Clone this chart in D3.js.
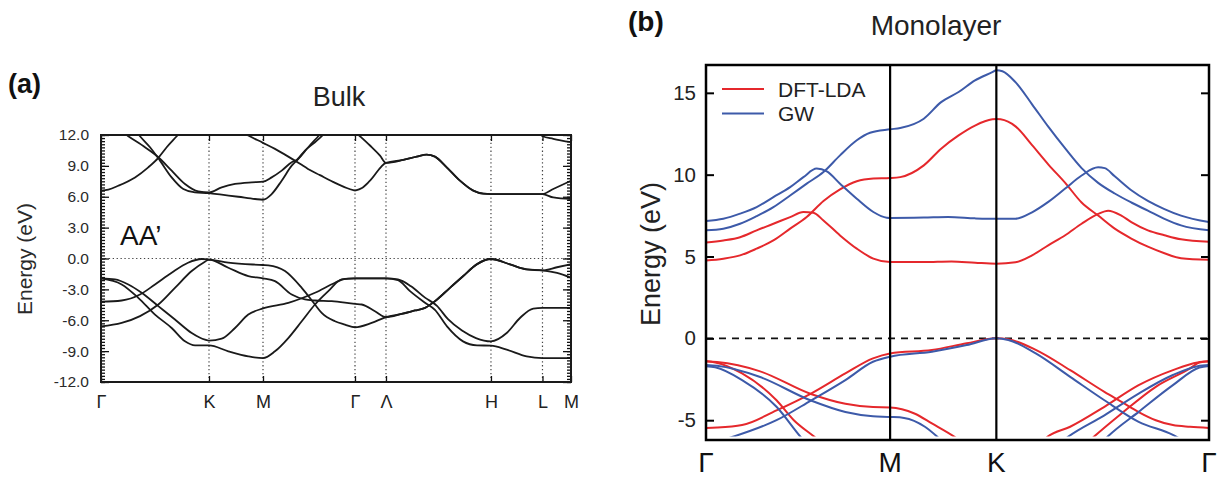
<!DOCTYPE html>
<html>
<head>
<meta charset="utf-8">
<script src="https://cdn.jsdelivr.net/npm/d3@7"></script>
<style>
body { margin: 0; background: #fff; }
svg { display: block; }
</style>
</head>
<body>
<div id="chart"></div>
<script>
// ---- (a) bulk, AA' stacking: high-symmetry path and bands as [k, E(eV)] ----
var bulkLabels = ["Γ", "K", "M", "Γ", "Λ", "H", "L", "M"];
var bulkTicks = [0, 1.174, 1.761, 2.761, 3.098, 4.239, 4.799, 5.109];
var bulkEnergyTicks = [12, 9, 6, 3, 0, -3, -6, -9, -12];

var bulkC1 = [[0,6.59],[0.08,6.7],[0.188,7.07],[0.37,7.88],[0.514,8.86],[0.623,9.78],[0.714,10.81],[0.823,11.88],[0.913,12.8]];
var bulkC2 = [[0.207,12.45],[0.297,11.88],[0.478,10.81],[0.623,9.84],[0.768,8.54],[0.913,7.24],[1.058,6.52],[1.174,6.42],[1.312,6.91],[1.457,7.24],[1.638,7.4],[1.761,7.46],[1.855,7.88],[1.964,8.54],[2.073,9.35],[2.127,9.58],[2.217,10.49],[2.326,11.3],[2.399,11.88],[2.467,12.6]];
var bulkC3 = [[0.36,12.6],[0.424,11.88],[0.533,10.81],[0.641,9.51],[0.768,7.88],[0.895,6.75],[1.022,6.42],[1.174,6.36],[1.312,6.2],[1.492,6.0],[1.674,5.78],[1.761,5.71],[1.855,6.26],[1.964,7.56],[2.073,9.02],[2.145,9.68],[2.253,10.81],[2.362,11.88],[2.435,12.6]];
var bulkC4 = [[1.50,12.45],[1.601,11.95],[1.761,11.24],[1.891,10.65],[2.036,9.9],[2.163,9.2],[2.25,8.7],[2.38,8.1],[2.522,7.45],[2.671,6.85],[2.761,6.59]];
var bulkC5 = [[2.761,6.59],[2.837,6.85],[2.924,7.56],[3.098,9.29],[3.286,9.58],[3.432,9.9],[3.540,10.1],[3.630,9.9],[3.758,8.86],[3.902,7.56],[4.047,6.59],[4.155,6.3],[4.239,6.26],[4.799,6.26],[4.916,6.75],[5.109,7.56]];
var bulkC6 = [[2.75,12.4],[2.815,11.88],[2.924,10.98],[3.033,10.0],[3.098,9.29],[3.286,9.58],[3.432,9.9],[3.540,10.1],[3.630,9.9],[3.758,8.86],[3.902,7.56],[4.047,6.59],[4.155,6.3],[4.239,6.26],[4.799,6.26],[4.916,5.93],[5.109,5.78]];
var bulkC7 = [[4.74,12.3],[4.797,11.9],[4.916,11.63],[5.109,11.3]];

var bulkV1 = [[0,-4.2],[0.225,-4.08],[0.424,-3.5],[0.587,-2.52],[0.768,-1.38],[0.946,-0.41],[1.095,-0.05],[1.174,-0.1],[1.384,-0.41],[1.761,-0.63],[1.82,-0.66],[2.0,-1.22],[2.182,-2.85],[2.326,-4.47],[2.399,-5.29],[2.543,-6.1],[2.652,-6.42],[2.761,-6.68],[2.942,-6.26],[3.098,-5.7],[3.268,-5.38],[3.413,-5.05],[3.522,-4.8],[3.630,-4.15],[3.793,-2.85],[3.938,-1.7],[4.084,-0.57],[4.239,-0.05],[4.446,-0.57],[4.627,-1.05],[4.799,-1.15],[4.957,-0.85],[5.109,-0.57]];
var bulkV2 = [[0,-6.6],[0.225,-6.26],[0.424,-5.6],[0.623,-4.47],[0.804,-2.85],[0.986,-1.22],[1.13,-0.31],[1.174,-0.1],[1.384,-0.9],[1.601,-1.71],[1.761,-1.93],[1.891,-2.2],[2.073,-3.5],[2.217,-3.98],[2.326,-4.08],[2.508,-4.15],[2.761,-4.41],[2.834,-4.47],[2.978,-5.12],[3.098,-5.7],[3.268,-5.38],[3.413,-5.05],[3.522,-4.8],[3.630,-4.15],[3.793,-2.85],[3.938,-1.7],[4.084,-0.57],[4.239,-0.05],[4.446,-0.57],[4.627,-1.05],[4.799,-1.15],[4.957,-1.4],[5.109,-1.87]];
var bulkV3 = [[0,-1.93],[0.152,-2.03],[0.297,-2.52],[0.442,-3.33],[0.623,-4.63],[0.804,-5.93],[0.986,-7.24],[1.13,-7.89],[1.174,-7.98],[1.312,-7.79],[1.457,-6.75],[1.601,-5.45],[1.761,-4.85],[2.036,-4.31],[2.326,-3.33],[2.543,-2.36],[2.652,-1.97],[2.761,-1.93],[3.098,-1.93],[3.228,-2.03],[3.370,-2.7],[3.522,-3.8],[3.652,-4.6],[3.772,-5.9],[3.924,-7.0],[4.076,-7.73],[4.239,-8.05],[4.410,-7.24],[4.554,-5.78],[4.699,-4.86],[4.799,-4.8],[5.109,-4.8]];
var bulkV4 = [[0,-1.93],[0.225,-2.52],[0.405,-3.82],[0.587,-5.45],[0.768,-6.75],[0.913,-8.05],[1.022,-8.44],[1.174,-8.44],[1.384,-9.02],[1.601,-9.51],[1.761,-9.68],[1.891,-9.02],[2.036,-7.73],[2.182,-6.1],[2.326,-4.47],[2.471,-3.17],[2.616,-2.03],[2.761,-1.93],[3.098,-1.93],[3.228,-2.1],[3.359,-3.17],[3.522,-4.3],[3.630,-5.0],[3.761,-6.6],[3.935,-8.05],[4.087,-8.44],[4.239,-8.47],[4.410,-8.86],[4.627,-9.51],[4.799,-9.68],[5.109,-9.68]];

// ---- (b) monolayer: Γ-M-K-Γ, DFT-LDA and GW bands ----
var monoLabels = ["Γ", "M", "K", "Γ"];
var monoTicks = [0, 1, 1.577, 2.732];
var monoEnergyTicks = [15, 10, 5, 0, -5];
var seriesNames = ["DFT-LDA", "GW"];

var ldaC1 = [[0,4.76],[0.094,4.87],[0.185,5.07],[0.275,5.48],[0.366,5.98],[0.457,6.7],[0.547,7.41],[0.638,8.39],[0.728,9.1],[0.819,9.6],[0.909,9.76],[1.0,9.79],[1.055,9.85],[1.183,10.57],[1.277,11.59],[1.372,12.4],[1.461,13.0],[1.555,13.38],[1.577,13.4],[1.60,13.38],[1.681,12.95],[1.771,11.8],[1.861,10.6],[1.951,9.5],[2.040,8.3],[2.130,7.5],[2.220,6.7],[2.310,6.1],[2.40,5.6],[2.49,5.2],[2.58,4.9],[2.732,4.8]];
var ldaC2 = [[0,5.85],[0.094,5.98],[0.185,6.18],[0.275,6.6],[0.366,7.0],[0.457,7.41],[0.529,7.72],[0.583,7.68],[0.638,7.2],[0.728,6.29],[0.819,5.48],[0.909,4.87],[1.0,4.66],[1.183,4.66],[1.333,4.7],[1.462,4.62],[1.577,4.56],[1.681,4.65],[1.771,5.07],[1.861,5.7],[1.951,6.3],[2.040,7.0],[2.130,7.6],[2.184,7.8],[2.256,7.5],[2.310,7.1],[2.40,6.6],[2.49,6.3],[2.58,6.05],[2.732,5.9]];
var ldaV1 = [[0,-5.47],[0.06,-5.45],[0.196,-5.3],[0.383,-4.4],[0.570,-3.37],[0.757,-2.14],[0.907,-1.22],[1.0,-0.92],[1.227,-0.71],[1.416,-0.3],[1.577,0],[1.642,-0.06],[1.791,-0.7],[1.978,-1.94],[2.164,-3.27],[2.257,-3.88],[2.350,-4.5],[2.443,-5.0],[2.536,-5.3],[2.629,-5.4],[2.732,-5.47]];
var ldaV2 = [[0,-1.4],[0.06,-1.45],[0.290,-2.0],[0.570,-3.4],[0.757,-4.0],[0.907,-4.2],[1.0,-4.22],[1.132,-4.59],[1.227,-5.2],[1.350,-6.02],[1.42,-6.6],[1.80,-6.6],[1.856,-6.0],[1.978,-5.4],[2.164,-4.18],[2.350,-2.86],[2.536,-1.94],[2.67,-1.47],[2.732,-1.4]];
var ldaV3 = [[0,-1.4],[0.05,-1.47],[0.196,-2.14],[0.383,-3.78],[0.477,-5.0],[0.589,-6.02],[0.65,-6.6],[2.05,-6.6],[2.108,-6.0],[2.257,-4.59],[2.443,-2.96],[2.629,-1.84],[2.68,-1.48],[2.732,-1.4]];

var gwC1 = [[0,6.6],[0.094,6.7],[0.185,7.0],[0.275,7.47],[0.366,8.02],[0.457,8.73],[0.547,9.45],[0.638,10.16],[0.728,11.18],[0.819,12.1],[0.891,12.56],[1.0,12.77],[1.055,12.85],[1.183,13.42],[1.277,14.43],[1.372,15.05],[1.461,15.76],[1.555,16.26],[1.577,16.38],[1.61,16.32],[1.681,15.65],[1.771,14.3],[1.861,12.9],[1.951,11.6],[2.040,10.4],[2.130,9.5],[2.220,8.85],[2.310,8.3],[2.40,7.8],[2.49,7.3],[2.58,6.9],[2.732,6.6]];
var gwC2 = [[0,7.17],[0.094,7.31],[0.185,7.62],[0.275,8.02],[0.366,8.63],[0.457,9.24],[0.529,9.85],[0.601,10.37],[0.656,10.2],[0.728,9.45],[0.819,8.53],[0.909,7.72],[0.982,7.37],[1.0,7.36],[1.183,7.38],[1.315,7.41],[1.462,7.33],[1.577,7.3],[1.681,7.31],[1.771,7.7],[1.861,8.35],[1.951,9.15],[2.040,9.95],[2.130,10.45],[2.166,10.4],[2.220,9.9],[2.310,9.05],[2.40,8.4],[2.49,7.9],[2.58,7.5],[2.732,7.1]];
var gwV1 = [[0,-6.5],[0.150,-6.0],[0.383,-5.0],[0.570,-3.8],[0.757,-2.55],[0.907,-1.43],[1.0,-1.12],[1.227,-0.82],[1.416,-0.41],[1.577,0],[1.642,-0.1],[1.791,-0.92],[1.978,-2.35],[2.164,-3.78],[2.350,-5.1],[2.536,-5.9],[2.6,-6.3]];
var gwV2 = [[0,-1.63],[0.06,-1.68],[0.290,-2.35],[0.570,-3.8],[0.757,-4.5],[0.907,-4.76],[1.0,-4.8],[1.076,-4.86],[1.189,-5.4],[1.255,-6.0],[1.31,-6.6],[1.90,-6.6],[1.968,-6.0],[2.164,-4.7],[2.350,-3.37],[2.536,-2.24],[2.67,-1.7],[2.732,-1.63]];
var gwV3 = [[0,-1.7],[0.05,-1.77],[0.196,-2.55],[0.383,-4.18],[0.514,-6.02],[0.56,-6.6],[2.13,-6.6],[2.182,-6.0],[2.350,-4.49],[2.536,-2.86],[2.68,-1.78],[2.732,-1.69]];

var bulkBands = [bulkC1, bulkC2, bulkC3, bulkC4, bulkC5, bulkC6, bulkC7, bulkV1, bulkV2, bulkV3, bulkV4];
var ldaBands = [ldaC1, ldaC2, ldaV1, ldaV2, ldaV3];
var gwBands = [gwC1, gwC2, gwV1, gwV2, gwV3];

var FONT = '"Liberation Sans", Arial, Helvetica, sans-serif';
var RED = "#e5282c", BLUE = "#3d5aa9";

var svg = d3.select("#chart").append("svg")
	.attr("width", 1230)
	.attr("height", 480)
	.style("font-family", FONT);
var defs = svg.append("defs");

function styleAxis(g, size, fill) {
	g.select(".domain").remove();
	g.attr("font-family", null).attr("font-size", null);
	g.selectAll("text").style("font-size", size + "px").style("fill", fill || "#222");
	g.selectAll("line").style("stroke", "#111");
}

// ============ (a) Bulk ============
var ax = d3.scaleLinear().domain([0, 5.109]).range([101, 571]);
var ay = d3.scaleLinear().domain([-12, 12]).range([382, 135]);
var bulkMinor = d3.range(0, 81).map(function(i) { return -12 + i * 0.3; });

defs.append("clipPath").attr("id", "clipA").append("rect")
	.attr("x", ax(0)).attr("y", ay(12))
	.attr("width", ax(5.109) - ax(0)).attr("height", ay(-12) - ay(12));

var ga = svg.append("g");

// dotted guides
ga.append("g").selectAll("line")
		.data(bulkTicks.slice(1, -1))
	.enter().append("line")
		.attr("x1", ax).attr("x2", ax)
		.attr("y1", ay(12)).attr("y2", ay(-12))
		.style("stroke", "#444").style("stroke-width", 1.2)
		.style("stroke-dasharray", "1.3,2.6");
ga.append("line")
	.attr("x1", ax(0)).attr("x2", ax(5.109))
	.attr("y1", ay(0)).attr("y2", ay(0))
	.style("stroke", "#444").style("stroke-width", 1.2)
	.style("stroke-dasharray", "1.3,2.6");

var lineA = d3.line()
	.x(function(d) { return ax(d[0]); })
	.y(function(d) { return ay(d[1]); })
	.curve(d3.curveMonotoneX);

ga.append("g").attr("clip-path", "url(#clipA)").selectAll("path")
		.data(bulkBands)
	.enter().append("path")
		.attr("d", lineA)
		.style("fill", "none")
		.style("stroke", "#1a1a1a")
		.style("stroke-width", 1.8);

// axes: minor + major ticks inward on both sides
ga.append("g").attr("transform", "translate(" + ax(0) + ",0)")
	.call(d3.axisLeft(ay).tickValues(bulkMinor).tickSize(-4).tickSizeOuter(0).tickFormat(""))
	.call(styleAxis, 14);
ga.append("g").attr("transform", "translate(" + ax(0) + ",0)")
	.call(d3.axisLeft(ay).tickValues(bulkEnergyTicks).tickSize(-8).tickSizeOuter(0).tickPadding(12)
		.tickFormat(function(d) { return d.toFixed(1); }))
	.call(styleAxis, 15.5, "#2a2a2a");
ga.append("g").attr("transform", "translate(" + ax(5.109) + ",0)")
	.call(d3.axisRight(ay).tickValues(bulkMinor).tickSize(-4).tickSizeOuter(0).tickFormat(""))
	.call(styleAxis, 14);
ga.append("g").attr("transform", "translate(" + ax(5.109) + ",0)")
	.call(d3.axisRight(ay).tickValues(bulkEnergyTicks).tickSize(-8).tickSizeOuter(0).tickFormat(""))
	.call(styleAxis, 14);
ga.append("g").attr("transform", "translate(0," + ay(-12) + ")")
	.call(d3.axisBottom(ax).tickValues(bulkTicks).tickSize(-6).tickSizeOuter(0).tickPadding(13)
		.tickFormat(function(d, i) { return bulkLabels[i]; }))
	.call(styleAxis, 18);
ga.append("g").attr("transform", "translate(0," + ay(12) + ")")
	.call(d3.axisTop(ax).tickValues(bulkTicks).tickSize(-6).tickSizeOuter(0).tickFormat(""))
	.call(styleAxis, 14);
ga.selectAll(".tick line").style("stroke-width", 1.3);

ga.append("rect")
	.attr("x", ax(0)).attr("y", ay(12))
	.attr("width", ax(5.109) - ax(0)).attr("height", ay(-12) - ay(12))
	.style("fill", "none").style("stroke", "#1a1a1a").style("stroke-width", 2);

ga.append("text")
	.attr("transform", "translate(32,259) rotate(-90)")
	.attr("text-anchor", "middle")
	.style("font-size", "21px").style("fill", "#2a2a2a")
	.text("Energy (eV)");
ga.append("text")
	.attr("x", 120).attr("y", 245)
	.style("font-size", "28px").style("fill", "#111")
	.text("AA’");
ga.append("text")
	.attr("x", 339).attr("y", 106)
	.attr("text-anchor", "middle")
	.style("font-size", "27px").style("fill", "#222")
	.text("Bulk");
ga.append("text")
	.attr("x", 8).attr("y", 93)
	.style("font-size", "27px").style("font-weight", "bold").style("fill", "#111")
	.text("(a)");

// ============ (b) Monolayer ============
var bx = d3.scaleLinear().domain([0, 2.732]).range([706, 1209]);
var by = d3.scaleLinear().domain([-6.21, 16.7]).range([440, 65]);

defs.append("clipPath").attr("id", "clipB").append("rect")
	.attr("x", bx(0)).attr("y", by(16.7))
	.attr("width", bx(2.732) - bx(0)).attr("height", by(-6.0) - by(16.7));

var gb = svg.append("g");

gb.append("line")
	.attr("x1", bx(0)).attr("x2", bx(2.732))
	.attr("y1", by(0)).attr("y2", by(0))
	.style("stroke", "#111").style("stroke-width", 1.6)
	.style("stroke-dasharray", "7,6");

var lineB = d3.line()
	.x(function(d) { return bx(d[0]); })
	.y(function(d) { return by(d[1]); })
	.curve(d3.curveMonotoneX);

var bands = gb.append("g").attr("clip-path", "url(#clipB)");
bands.selectAll(".lda")
		.data(ldaBands)
	.enter().append("path")
		.attr("class", "lda")
		.attr("d", lineB)
		.style("fill", "none").style("stroke", RED).style("stroke-width", 2);
bands.selectAll(".gw")
		.data(gwBands)
	.enter().append("path")
		.attr("class", "gw")
		.attr("d", lineB)
		.style("fill", "none").style("stroke", BLUE).style("stroke-width", 2);

// high-symmetry verticals
gb.append("g").selectAll("line")
		.data(monoTicks.slice(1, -1))
	.enter().append("line")
		.attr("x1", bx).attr("x2", bx)
		.attr("y1", by(16.7)).attr("y2", by(-6.21))
		.style("stroke", "#000").style("stroke-width", 2.2);

gb.append("g").attr("transform", "translate(" + bx(0) + ",0)")
	.call(d3.axisLeft(by).tickValues(monoEnergyTicks).tickSize(-8).tickSizeOuter(0).tickPadding(10)
		.tickFormat(function(d) { return String(d); }))
	.call(styleAxis, 20.5);
gb.append("g").attr("transform", "translate(" + bx(2.732) + ",0)")
	.call(d3.axisRight(by).tickValues(monoEnergyTicks).tickSize(-8).tickSizeOuter(0).tickFormat(""))
	.call(styleAxis, 20);
gb.selectAll(".tick line").style("stroke-width", 2).style("stroke", "#000");

gb.append("rect")
	.attr("x", bx(0)).attr("y", by(16.7))
	.attr("width", bx(2.732) - bx(0)).attr("height", by(-6.21) - by(16.7))
	.style("fill", "none").style("stroke", "#000").style("stroke-width", 2.5);

gb.append("g").selectAll("text")
		.data(monoTicks)
	.enter().append("text")
		.attr("x", bx).attr("y", 472)
		.attr("text-anchor", "middle")
		.style("font-size", "28px").style("fill", "#111")
		.text(function(d, i) { return monoLabels[i]; });

// legend
var legend = gb.append("g").selectAll("g")
		.data(seriesNames)
	.enter().append("g")
		.attr("transform", function(d, i) { return "translate(722," + (89 + i * 24.5) + ")"; });
legend.append("line")
	.attr("x1", 0).attr("x2", 42)
	.style("stroke", function(d, i) { return i === 0 ? RED : BLUE; })
	.style("stroke-width", 2);
legend.append("text")
	.attr("x", 56).attr("dy", "0.36em")
	.style("font-size", "21px").style("fill", "#222")
	.text(function(d) { return d; });

gb.append("text")
	.attr("transform", "translate(660,254) rotate(-90)")
	.attr("text-anchor", "middle")
	.style("font-size", "27px").style("fill", "#222")
	.text("Energy (eV)");
gb.append("text")
	.attr("x", 936).attr("y", 35)
	.attr("text-anchor", "middle")
	.style("font-size", "28px").style("fill", "#222")
	.text("Monolayer");
gb.append("text")
	.attr("x", 628).attr("y", 31)
	.style("font-size", "28px").style("font-weight", "bold").style("fill", "#111")
	.text("(b)");
</script>
</body>
</html>
